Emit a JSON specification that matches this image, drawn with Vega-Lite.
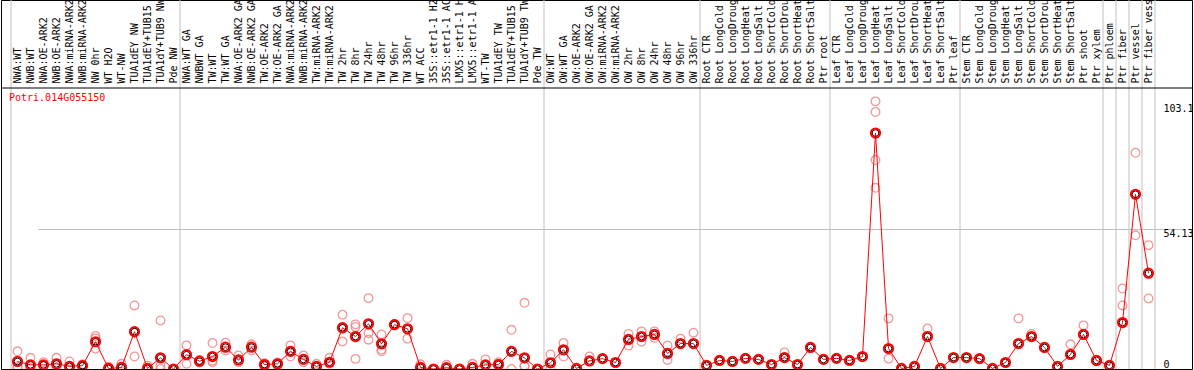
{
  "$schema": "https://vega.github.io/schema/vega-lite/v6.json",
  "width": 1191,
  "height": 369,
  "autosize": {"type": "none"},
  "padding": {"left": 1, "top": 0, "right": 2, "bottom": 1},
  "background": "white",
  "config": {
    "view": {"stroke": "#000000", "strokeWidth": 1},
    "font": "DejaVu Sans Mono"
  },
  "datasets": {
    "cats": [
      {"c": "NWA:WT"}, {"c": "NWB:WT"}, {"c": "NWA:OE-ARK2"}, {"c": "NWB:OE-ARK2"}, {"c": "NWA:miRNA-ARK2"}, {"c": "NWB:miRNA-ARK2"}, {"c": "NW 0hr"}, {"c": "WT H2O"}, {"c": "WT-NW"}, {"c": "TUA1dEY NW"}, {"c": "TUA1dEY+TUB15 NW"}, {"c": "TUA1dY+TUB9 NW"}, {"c": "Pde NW"},
      {"c": "NWA:WT GA"}, {"c": "NWBWT GA"}, {"c": "TW:WT"}, {"c": "TW:WT GA"}, {"c": "NWA:OE-ARK2 GA"}, {"c": "NWB:OE-ARK2 GA"}, {"c": "TW:OE-ARK2"}, {"c": "TW:OE-ARK2 GA"}, {"c": "NWA:miRNA-ARK2 GA"}, {"c": "NWB:miRNA-ARK2 GA"}, {"c": "TW:miRNA-ARK2"}, {"c": "TW:miRNA-ARK2 GA"}, {"c": "TW 2hr"}, {"c": "TW 8hr"}, {"c": "TW 24hr"}, {"c": "TW 48hr"}, {"c": "TW 96hr"}, {"c": "TW 336hr"}, {"c": "WT ACC"}, {"c": "35S::etr1-1 H2O"}, {"c": "35S::etr1-1 ACC"}, {"c": "LMX5::etr1-1 H2O"}, {"c": "LMX5::etr1-1 ACC"}, {"c": "WT-TW"}, {"c": "TUA1dEY TW"}, {"c": "TUA1dEY+TUB15 TW"}, {"c": "TUA1dY+TUB9 TW"}, {"c": "Pde TW"},
      {"c": "OW:WT"}, {"c": "OW:WT GA"}, {"c": "OW:OE-ARK2"}, {"c": "OW:OE-ARK2 GA"}, {"c": "OW:miRNA-ARK2"}, {"c": "OW:miRNA-ARK2 GA"}, {"c": "OW 2hr"}, {"c": "OW 8hr"}, {"c": "OW 24hr"}, {"c": "OW 48hr"}, {"c": "OW 96hr"}, {"c": "OW 336hr"},
      {"c": "Root CTR"}, {"c": "Root LongCold"}, {"c": "Root LongDrought"}, {"c": "Root LongHeat"}, {"c": "Root LongSalt"}, {"c": "Root ShortCold"}, {"c": "Root ShortDrought"}, {"c": "Root ShortHeat"}, {"c": "Root ShortSalt"}, {"c": "Ptr root"},
      {"c": "Leaf CTR"}, {"c": "Leaf LongCold"}, {"c": "Leaf LongDrought"}, {"c": "Leaf LongHeat"}, {"c": "Leaf LongSalt"}, {"c": "Leaf ShortCold"}, {"c": "Leaf ShortDrought"}, {"c": "Leaf ShortHeat"}, {"c": "Leaf ShortSalt"}, {"c": "Ptr leaf"},
      {"c": "Stem CTR"}, {"c": "Stem LongCold"}, {"c": "Stem LongDrought"}, {"c": "Stem LongHeat"}, {"c": "Stem LongSalt"}, {"c": "Stem ShortCold"}, {"c": "Stem ShortDrought"}, {"c": "Stem ShortHeat"}, {"c": "Stem ShortSalt"}, {"c": "Ptr shoot"}, {"c": "Ptr xylem"},
      {"c": "Ptr phloem"}, {"c": "Ptr fiber"}, {"c": "Ptr vessel"}, {"c": "Ptr fiber vessel"}
    ],
    "means": [
      {"c": "NWA:WT", "v": 2.9}, {"c": "NWB:WT", "v": 1.6}, {"c": "NWA:OE-ARK2", "v": 1.6}, {"c": "NWB:OE-ARK2", "v": 2.0}, {"c": "NWA:miRNA-ARK2", "v": 1.0}, {"c": "NWB:miRNA-ARK2", "v": 1.3}, {"c": "NW 0hr", "v": 10.5}, {"c": "WT H2O", "v": 0.2}, {"c": "WT-NW", "v": 0.6}, {"c": "TUA1dEY NW", "v": 14.4}, {"c": "TUA1dEY+TUB15 NW", "v": 0.2}, {"c": "TUA1dY+TUB9 NW", "v": 4.3}, {"c": "Pde NW", "v": 0.0},
      {"c": "NWA:WT GA", "v": 5.5}, {"c": "NWBWT GA", "v": 3.0}, {"c": "TW:WT", "v": 4.8}, {"c": "TW:WT GA", "v": 8.4}, {"c": "NWA:OE-ARK2 GA", "v": 3.5}, {"c": "NWB:OE-ARK2 GA", "v": 8.4}, {"c": "TW:OE-ARK2", "v": 1.7}, {"c": "TW:OE-ARK2 GA", "v": 2.0}, {"c": "NWA:miRNA-ARK2 GA", "v": 6.8}, {"c": "NWB:miRNA-ARK2 GA", "v": 3.7}, {"c": "TW:miRNA-ARK2", "v": 1.0}, {"c": "TW:miRNA-ARK2 GA", "v": 2.6}, {"c": "TW 2hr", "v": 15.9}, {"c": "TW 8hr", "v": 12.5}, {"c": "TW 24hr", "v": 17.4}, {"c": "TW 48hr", "v": 9.7}, {"c": "TW 96hr", "v": 17.1}, {"c": "TW 336hr", "v": 15.5}, {"c": "WT ACC", "v": 0.6}, {"c": "35S::etr1-1 H2O", "v": 0.0}, {"c": "35S::etr1-1 ACC", "v": 0.5}, {"c": "LMX5::etr1-1 H2O", "v": 0.0}, {"c": "LMX5::etr1-1 ACC", "v": 0.6}, {"c": "WT-TW", "v": 1.6}, {"c": "TUA1dEY TW", "v": 1.7}, {"c": "TUA1dEY+TUB15 TW", "v": 6.8}, {"c": "TUA1dY+TUB9 TW", "v": 4.3}, {"c": "Pde TW", "v": 0.0},
      {"c": "OW:WT", "v": 2.4}, {"c": "OW:WT GA", "v": 7.4}, {"c": "OW:OE-ARK2", "v": 0.2}, {"c": "OW:OE-ARK2 GA", "v": 3.1}, {"c": "OW:miRNA-ARK2", "v": 4.0}, {"c": "OW:miRNA-ARK2 GA", "v": 2.5}, {"c": "OW 2hr", "v": 11.4}, {"c": "OW 8hr", "v": 12.5}, {"c": "OW 24hr", "v": 13.3}, {"c": "OW 48hr", "v": 6.0}, {"c": "OW 96hr", "v": 9.8}, {"c": "OW 336hr", "v": 9.8},
      {"c": "Root CTR", "v": 1.4}, {"c": "Root LongCold", "v": 3.3}, {"c": "Root LongDrought", "v": 2.9}, {"c": "Root LongHeat", "v": 4.1}, {"c": "Root LongSalt", "v": 3.7}, {"c": "Root ShortCold", "v": 1.7}, {"c": "Root ShortDrought", "v": 4.4}, {"c": "Root ShortHeat", "v": 1.7}, {"c": "Root ShortSalt", "v": 8.3}, {"c": "Ptr root", "v": 3.7},
      {"c": "Leaf CTR", "v": 4.1}, {"c": "Leaf LongCold", "v": 3.3}, {"c": "Leaf LongDrought", "v": 4.8}, {"c": "Leaf LongHeat", "v": 90.9}, {"c": "Leaf LongSalt", "v": 7.9}, {"c": "Leaf ShortCold", "v": 0.2}, {"c": "Leaf ShortDrought", "v": 1.0}, {"c": "Leaf ShortHeat", "v": 12.5}, {"c": "Leaf ShortSalt", "v": 0.2}, {"c": "Ptr leaf", "v": 4.4},
      {"c": "Stem CTR", "v": 4.4}, {"c": "Stem LongCold", "v": 4.0}, {"c": "Stem LongDrought", "v": 0.2}, {"c": "Stem LongHeat", "v": 2.5}, {"c": "Stem LongSalt", "v": 9.8}, {"c": "Stem ShortCold", "v": 12.5}, {"c": "Stem ShortDrought", "v": 8.3}, {"c": "Stem ShortHeat", "v": 1.0}, {"c": "Stem ShortSalt", "v": 5.6}, {"c": "Ptr shoot", "v": 13.3}, {"c": "Ptr xylem", "v": 3.3},
      {"c": "Ptr phloem", "v": 1.4}, {"c": "Ptr fiber", "v": 17.9}, {"c": "Ptr vessel", "v": 67.3}, {"c": "Ptr fiber vessel", "v": 36.9}
    ],
    "reps": [
      {"c": "NWA:WT", "v": 6.8}, {"c": "NWA:WT", "v": 1.0}, {"c": "NWA:WT", "v": 0.5},
      {"c": "NWB:WT", "v": 4.3}, {"c": "NWB:WT", "v": 0.3},
      {"c": "NWA:OE-ARK2", "v": 2.6}, {"c": "NWA:OE-ARK2", "v": 1.2},
      {"c": "NWB:OE-ARK2", "v": 4.3}, {"c": "NWB:OE-ARK2", "v": 0.6},
      {"c": "NWA:miRNA-ARK2", "v": 2.9}, {"c": "NWA:miRNA-ARK2", "v": 0.3},
      {"c": "NWB:miRNA-ARK2", "v": 1.8}, {"c": "NWB:miRNA-ARK2", "v": 0.8},
      {"c": "NW 0hr", "v": 12.7}, {"c": "NW 0hr", "v": 11.8}, {"c": "NW 0hr", "v": 7.8},
      {"c": "WT H2O", "v": 0.9}, {"c": "WT H2O", "v": 0.0},
      {"c": "WT-NW", "v": 2.0}, {"c": "WT-NW", "v": 0.0},
      {"c": "TUA1dEY NW", "v": 24.5}, {"c": "TUA1dEY NW", "v": 14.0}, {"c": "TUA1dEY NW", "v": 4.8},
      {"c": "TUA1dEY+TUB15 NW", "v": 1.3}, {"c": "TUA1dEY+TUB15 NW", "v": 0.0},
      {"c": "TUA1dY+TUB9 NW", "v": 18.7}, {"c": "TUA1dY+TUB9 NW", "v": 1.3}, {"c": "TUA1dY+TUB9 NW", "v": 0.0},
      {"c": "Pde NW", "v": 0.0},
      {"c": "NWA:WT GA", "v": 9.1}, {"c": "NWA:WT GA", "v": 2.0},
      {"c": "NWBWT GA", "v": 3.5}, {"c": "NWBWT GA", "v": 2.5},
      {"c": "TW:WT", "v": 10.0}, {"c": "TW:WT", "v": 2.6}, {"c": "TW:WT", "v": 3.2},
      {"c": "TW:WT GA", "v": 10.1}, {"c": "TW:WT GA", "v": 7.1},
      {"c": "NWA:OE-ARK2 GA", "v": 5.2}, {"c": "NWA:OE-ARK2 GA", "v": 2.6},
      {"c": "NWB:OE-ARK2 GA", "v": 9.5}, {"c": "NWB:OE-ARK2 GA", "v": 7.1},
      {"c": "TW:OE-ARK2", "v": 2.2}, {"c": "TW:OE-ARK2", "v": 1.0},
      {"c": "TW:OE-ARK2 GA", "v": 2.5}, {"c": "TW:OE-ARK2 GA", "v": 1.5},
      {"c": "NWA:miRNA-ARK2 GA", "v": 9.1}, {"c": "NWA:miRNA-ARK2 GA", "v": 4.8},
      {"c": "NWB:miRNA-ARK2 GA", "v": 5.2}, {"c": "NWB:miRNA-ARK2 GA", "v": 2.6},
      {"c": "TW:miRNA-ARK2", "v": 2.0},
      {"c": "TW:miRNA-ARK2 GA", "v": 4.3}, {"c": "TW:miRNA-ARK2 GA", "v": 2.0},
      {"c": "TW 2hr", "v": 20.9}, {"c": "TW 2hr", "v": 10.6}, {"c": "TW 2hr", "v": 15.5},
      {"c": "TW 8hr", "v": 17.2}, {"c": "TW 8hr", "v": 16.2}, {"c": "TW 8hr", "v": 3.9},
      {"c": "TW 24hr", "v": 27.3}, {"c": "TW 24hr", "v": 13.8}, {"c": "TW 24hr", "v": 11.3},
      {"c": "TW 48hr", "v": 13.3}, {"c": "TW 48hr", "v": 7.5}, {"c": "TW 48hr", "v": 6.8},
      {"c": "TW 96hr", "v": 17.3}, {"c": "TW 96hr", "v": 16.8},
      {"c": "TW 336hr", "v": 19.6}, {"c": "TW 336hr", "v": 11.7},
      {"c": "WT ACC", "v": 1.8},
      {"c": "35S::etr1-1 ACC", "v": 1.6},
      {"c": "LMX5::etr1-1 ACC", "v": 2.0},
      {"c": "WT-TW", "v": 3.7},
      {"c": "TUA1dEY TW", "v": 2.6}, {"c": "TUA1dEY TW", "v": 2.0},
      {"c": "TUA1dEY+TUB15 TW", "v": 15.1}, {"c": "TUA1dEY+TUB15 TW", "v": 0.0},
      {"c": "TUA1dY+TUB9 TW", "v": 25.5}, {"c": "TUA1dY+TUB9 TW", "v": 1.3}, {"c": "TUA1dY+TUB9 TW", "v": 1.0},
      {"c": "OW:WT", "v": 5.6}, {"c": "OW:WT", "v": 0.0},
      {"c": "OW:WT GA", "v": 10.0}, {"c": "OW:WT GA", "v": 4.8},
      {"c": "OW:OE-ARK2 GA", "v": 4.8},
      {"c": "OW 2hr", "v": 13.5}, {"c": "OW 2hr", "v": 9.0},
      {"c": "OW 8hr", "v": 14.5}, {"c": "OW 8hr", "v": 10.5},
      {"c": "OW 24hr", "v": 14.5}, {"c": "OW 24hr", "v": 12.0},
      {"c": "OW 48hr", "v": 9.0}, {"c": "OW 48hr", "v": 3.5},
      {"c": "OW 96hr", "v": 11.7},
      {"c": "OW 336hr", "v": 14.0},
      {"c": "Root ShortDrought", "v": 6.4},
      {"c": "Leaf LongHeat", "v": 103.1}, {"c": "Leaf LongHeat", "v": 99.0}, {"c": "Leaf LongHeat", "v": 80.5}, {"c": "Leaf LongHeat", "v": 69.8},
      {"c": "Leaf LongSalt", "v": 19.5}, {"c": "Leaf LongSalt", "v": 4.0},
      {"c": "Leaf ShortHeat", "v": 15.6},
      {"c": "Stem LongSalt", "v": 19.5},
      {"c": "Stem ShortCold", "v": 13.5},
      {"c": "Stem ShortSalt", "v": 9.5},
      {"c": "Ptr shoot", "v": 16.8},
      {"c": "Ptr fiber", "v": 31.0}, {"c": "Ptr fiber", "v": 24.5},
      {"c": "Ptr vessel", "v": 83.3}, {"c": "Ptr vessel", "v": 51.5},
      {"c": "Ptr fiber vessel", "v": 47.7}, {"c": "Ptr fiber vessel", "v": 27.2}
    ],
    "groupStarts": [
      {"c": "NWA:WT"}, {"c": "NWA:WT GA"}, {"c": "OW:WT"}, {"c": "Root CTR"}, {"c": "Leaf CTR"}, {"c": "Stem CTR"}, {"c": "Ptr phloem"}, {"c": "Ptr fiber"}, {"c": "Ptr vessel"}, {"c": "Ptr fiber vessel"}
    ],
    "gene": [{"name": "Potri.014G055150"}]
  },
  "layer": [
    {
      "data": {"name": "cats"},
      "mark": {"type": "rule", "opacity": 0},
      "encoding": {
        "x": {
          "field": "c", "type": "nominal", "sort": null,
          "scale": {"type": "band", "range": [10, 1154], "paddingInner": 0, "paddingOuter": 0},
          "axis": {
            "orient": "top", "offset": -88, "title": null, "domain": false, "ticks": false, "tickSize": 0,
            "labelAngle": -90, "labelAlign": "left", "labelBaseline": "middle", "labelPadding": 5,
            "labelFont": "DejaVu Sans Mono", "labelFontSize": 10, "labelColor": "#000000",
            "labelOverlap": false, "labelLimit": 0, "grid": false
          }
        },
        "y": {
          "datum": 0, "type": "quantitative",
          "scale": {"domain": [0, 108.26], "range": [369, 88], "nice": false, "zero": false},
          "axis": {
            "orient": "right", "offset": -29, "title": null, "domain": false, "ticks": false, "tickSize": 0,
            "values": [0, 54.13, 103.1], "labelAlign": "left", "labelPadding": 0,
            "labelBaseline": {"condition": {"test": "datum.value == 0", "value": "bottom"}, "value": "top"},
            "labelOffset": {"condition": {"test": "datum.value > 100", "value": 2}, "value": 0},
            "labelFont": "DejaVu Sans Mono", "labelFontSize": 10, "labelColor": "#000000",
            "labelExpr": "datum.value == 0 ? '0' : format(datum.value, '.4~r')",
            "grid": true, "gridColor": "#c0c0c0", "gridWidth": 1,
            "gridOpacity": {"condition": {"test": "datum.value == 54.13", "value": 1}, "value": 0}
          }
        }
      }
    },
    {
      "data": {"name": "groupStarts"},
      "mark": {"type": "rule", "color": "#c0c0c0", "strokeWidth": 1},
      "encoding": {"x": {"field": "c", "type": "nominal", "sort": null, "bandPosition": 0}}
    },
    {
      "data": {"values": [{"c": "Ptr fiber vessel"}]},
      "mark": {"type": "rule", "color": "#c0c0c0", "strokeWidth": 1},
      "encoding": {"x": {"field": "c", "type": "nominal", "sort": null, "bandPosition": 1}}
    },
    {
      "data": {"values": [{"top": 108.26}]},
      "mark": {"type": "rule", "color": "#000000", "strokeWidth": 1},
      "encoding": {"y": {"field": "top", "type": "quantitative"}}
    },
    {
      "data": {"name": "reps"},
      "mark": {"type": "point", "shape": "circle", "filled": false, "size": 75, "stroke": "#f08080", "strokeWidth": 1.3, "opacity": 0.8, "clip": true},
      "encoding": {
        "x": {"field": "c", "type": "nominal", "sort": null},
        "y": {"field": "v", "type": "quantitative"}
      }
    },
    {
      "data": {"name": "means"},
      "mark": {"type": "line", "color": "#ff0000", "strokeWidth": 1, "clip": true},
      "encoding": {
        "x": {"field": "c", "type": "nominal", "sort": null},
        "y": {"field": "v", "type": "quantitative"}
      }
    },
    {
      "data": {"name": "means"},
      "mark": {"type": "point", "shape": "circle", "filled": false, "size": 45, "stroke": "#000000", "strokeWidth": 1, "opacity": 1, "clip": true},
      "encoding": {
        "x": {"field": "c", "type": "nominal", "sort": null},
        "y": {"field": "v", "type": "quantitative"}
      }
    },
    {
      "data": {"name": "means"},
      "mark": {"type": "point", "shape": "circle", "filled": false, "size": 85, "stroke": "#ff0000", "strokeWidth": 2, "opacity": 1, "clip": true},
      "encoding": {
        "x": {"field": "c", "type": "nominal", "sort": null},
        "y": {"field": "v", "type": "quantitative"}
      }
    },
    {
      "data": {"name": "gene"},
      "mark": {"type": "text", "font": "DejaVu Sans Mono", "fontSize": 10, "color": "#ff0000", "align": "left", "baseline": "alphabetic", "dx": -2, "dy": 13},
      "encoding": {
        "x": {"datum": "NWA:WT", "type": "nominal", "bandPosition": 0},
        "y": {"datum": 108.26, "type": "quantitative"},
        "text": {"field": "name"}
      }
    }
  ]
}
